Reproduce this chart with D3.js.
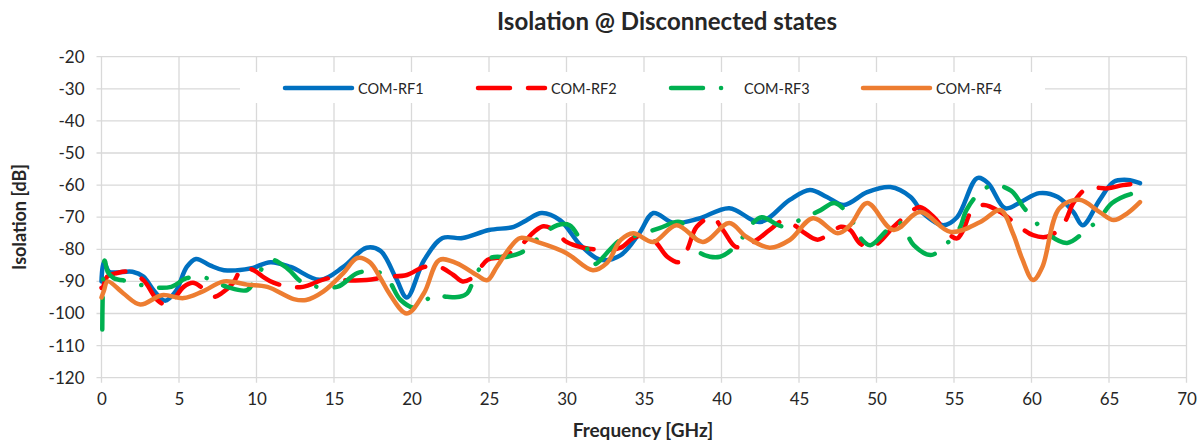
<!DOCTYPE html>
<html>
<head>
<meta charset="utf-8">
<script src="https://cdn.jsdelivr.net/npm/d3@7"></script>
<style>
  html, body { margin: 0; padding: 0; background: #fff; }
  svg text { font-family: Lato, "Open Sans", sans-serif; fill: #262626; }
</style>
</head>
<body>
<div id="chart"></div>
<script>
/* tick values */
const freqTicks = d3.range(0, 71, 5);
const dbTicks = d3.range(-120, -19, 10);

/* series: [frequency GHz, isolation dB] */
const comRf1 = [[0,-90],[0.15,-84],[0.5,-87],[1,-87.2],[2,-87],[2.7,-88.5],[3.4,-93],[4.1,-96],[4.8,-93],[5.5,-85.5],[6.1,-83],[7,-85],[7.9,-86.5],[9.6,-86],[10.9,-84],[12.2,-85.5],[14.1,-89.5],[15.6,-85.5],[17.1,-79.5],[18,-80.5],[19,-89],[19.7,-95],[20.8,-83.5],[22,-76.5],[23.3,-76.5],[25,-74],[26.6,-73],[27.4,-71],[28.4,-68.7],[29.6,-71],[30.9,-78.7],[32.2,-83.3],[33.5,-81.8],[34.7,-75],[35.6,-68.7],[36.9,-71.8],[38.5,-70.5],[40.5,-67.2],[42.5,-71.5],[44.4,-64.6],[45.7,-61.5],[46.8,-63.7],[47.9,-66.2],[49.4,-62.2],[50.9,-60.6],[52.2,-63.7],[53,-68.7],[54.3,-72.5],[55.2,-70],[56.5,-57.8],[57.2,-59.4],[58.3,-67.2],[59.3,-65.3],[60.5,-62.5],[61.7,-63.7],[62.7,-68.4],[63.3,-72.5],[64.4,-64.6],[65.3,-59],[66.2,-58.4],[67,-59.4]];

const comRf2 = [[0,-92],[0.1,-91.7],[0.35,-88.6],[1,-87.4],[1.7,-87],[2.7,-89.6],[3.6,-95.8],[4.2,-97.4],[4.6,-96],[5.3,-91.7],[5.9,-90.4],[6.5,-92],[7.2,-94.8],[7.8,-93.5],[8.5,-90.4],[9.1,-85.8],[9.8,-86.5],[10.4,-88.5],[11.1,-90.4],[12.2,-91.7],[13,-91.7],[14.7,-89],[15.6,-89.6],[17.1,-89.6],[18.4,-88.6],[19.7,-88],[20.8,-85.5],[21.8,-85.5],[22.7,-88],[23.3,-90],[24,-88.6],[24.9,-83.3],[25.9,-82.3],[27,-79],[27.9,-74.6],[28.5,-72.8],[29.2,-74],[30,-77.7],[31.1,-79.5],[32.2,-80.1],[33.5,-79.5],[34.3,-76.5],[35.2,-75.5],[35.8,-78],[36.5,-82.3],[37.3,-84],[37.8,-80],[38.4,-73],[39.4,-70],[40.1,-74],[40.9,-79.2],[41.6,-79],[42.3,-77],[43.1,-74],[44,-71],[44.7,-72.5],[45.3,-74.7],[46.2,-77],[47,-75],[47.7,-73],[48.3,-74],[48.9,-78],[49.6,-79.5],[50.2,-77.7],[51.1,-73],[52.2,-68.4],[52.8,-66.8],[53.7,-70],[54.6,-75],[55.2,-76.6],[55.6,-74],[56.1,-68.4],[56.9,-66.2],[58,-68.4],[59.1,-72.5],[60.1,-75.6],[61,-76.1],[61.6,-74.5],[62.2,-71],[62.7,-65.6],[63.6,-61],[64.9,-61],[65.9,-60],[67,-59.4]];

const comRf3 = [[0.05,-105],[0.2,-83.5],[0.4,-87],[0.8,-89],[1.8,-90],[3.1,-91.7],[4.5,-91.7],[5.5,-89],[6.8,-89],[8.1,-91.7],[9.4,-92.7],[10,-88.6],[10.9,-83.3],[12,-86],[13,-90.4],[15.2,-91.7],[16.5,-87.4],[17.8,-87],[18.5,-89.5],[19.3,-95.8],[20.3,-98.3],[21.4,-94.3],[22.3,-94.8],[23.1,-94.8],[23.6,-93.7],[24.2,-87.4],[25.1,-82.7],[26.2,-82.3],[27.2,-80.7],[28.3,-76],[29.4,-72.5],[30.2,-72.5],[30.9,-77],[31.3,-79.5],[31.8,-84.6],[32.8,-80.1],[33.5,-77],[34.3,-76],[36,-73.4],[37.3,-71.5],[38.2,-76],[38.6,-81],[39.9,-82.3],[41.1,-78],[41.8,-73],[42.6,-70],[43.9,-72.8],[45.3,-70.3],[46.4,-67.8],[47.3,-65.6],[48.3,-70],[48.9,-76],[49.6,-78.7],[50.7,-74],[51.5,-71.8],[52.4,-78.7],[53.5,-81.8],[54.3,-79.2],[55.3,-74],[55.8,-67.8],[56.5,-63.1],[57.5,-60],[58.7,-61.8],[59.5,-67],[61,-75],[62.3,-78],[63.4,-74.6],[64.4,-70.3],[65.2,-65.6],[66.4,-62.8],[67,-62.5]];

const comRf4 = [[0,-95],[0.15,-93],[0.4,-90],[1.4,-93.7],[2.5,-97.2],[3.9,-94.3],[5.3,-95.2],[6.5,-93.2],[7.9,-90],[9.4,-91],[10.7,-91.7],[12.4,-95.5],[13.2,-95.8],[14.3,-93.2],[15.6,-87.4],[16.5,-82.7],[17.3,-84],[18,-89],[18.6,-94],[19.7,-100],[20.8,-93.7],[21.8,-83.3],[22.9,-84.3],[24.2,-88],[24.9,-89.6],[25.5,-85.5],[26.4,-79.2],[27,-76.5],[28.3,-78],[30,-81.2],[31.7,-86.5],[32.6,-84.3],[33.5,-77.1],[34.3,-75],[35.6,-77.7],[37.1,-72.5],[38.8,-77.7],[40.5,-71.8],[41.6,-76.1],[43.1,-79.5],[44.4,-77.1],[45.9,-70.3],[47.5,-75],[48.3,-72.5],[49.4,-65.6],[51.1,-74],[52.8,-68.4],[54.8,-74.6],[56.7,-71.5],[58,-67.8],[58.8,-75],[59.4,-83],[60.1,-89.6],[60.7,-85.5],[61.8,-67.2],[63.1,-64.6],[64.4,-68.4],[65.3,-70.9],[66.2,-68.7],[67,-65.3]];

const seriesNames = ["COM-RF1", "COM-RF2", "COM-RF3", "COM-RF4"];
const seriesColors = ["#0070c0", "#ff0000", "#00b050", "#ed7d31"];
const seriesDash = [null, "32,18", "32,18,0.1,18", null];
const seriesData = [comRf1, comRf2, comRf3, comRf4];

const W = 1200, H = 441;
const plot = { left: 101.5, right: 1186.5, top: 56.7, bottom: 377.7 };
const lineW = 4.5;

const svg = d3.select("#chart").append("svg")
    .attr("width", W)
    .attr("height", H);

const x = d3.scaleLinear().domain([0, 70]).range([plot.left, plot.right]);
const y = d3.scaleLinear().domain([-120, -20]).range([plot.bottom, plot.top]);

/* grid */
const grid = svg.append("g").attr("stroke", "#d9d9d9").attr("stroke-width", 1.3);
grid.selectAll("line.h").data(dbTicks).join("line")
    .attr("x1", plot.left - 5).attr("x2", plot.right)
    .attr("y1", d => y(d)).attr("y2", d => y(d));
grid.selectAll("line.v").data(freqTicks).join("line")
    .attr("x1", d => x(d)).attr("x2", d => x(d))
    .attr("y1", plot.top).attr("y2", plot.bottom + 5);

/* axes, only used for labels */
const xAxis = svg.append("g")
    .attr("transform", `translate(0, ${plot.bottom + 5})`)
    .call(d3.axisBottom(x).tickValues(freqTicks).tickSize(0).tickPadding(10));
const yAxis = svg.append("g")
    .attr("transform", `translate(${plot.left - 8}, 0)`)
    .call(d3.axisLeft(y).tickValues(dbTicks).tickSize(0).tickPadding(9)
        .tickFormat(d => d));
[xAxis, yAxis].forEach(a => {
    a.select(".domain").remove();
    a.selectAll("text").attr("font-size", 17).style("font-family", "Lato, sans-serif").attr("fill", "#262626");
});

/* legend box (drawn before lines) */
svg.append("rect")
    .attr("x", 240).attr("y", 72).attr("width", 805).attr("height", 31)
    .attr("fill", "#fff");

/* lines */
const line = d3.line()
    .x(d => x(d[0]))
    .y(d => y(d[1]))
    .curve(d3.curveCatmullRom.alpha(0.5));

seriesData.forEach((data, i) => {
    svg.append("path")
        .datum(data)
        .attr("d", line)
        .attr("fill", "none")
        .attr("stroke", seriesColors[i])
        .attr("stroke-width", lineW)
        .attr("stroke-linecap", "round")
        .attr("stroke-linejoin", "round")
        .attr("stroke-dasharray", seriesDash[i]);
});

/* legend */
const legendX = [285, 478, 671, 863];
const legend = svg.append("g");
seriesNames.forEach((name, i) => {
    legend.append("line")
        .attr("x1", legendX[i]).attr("x2", legendX[i] + 67)
        .attr("y1", 88).attr("y2", 88)
        .attr("stroke", seriesColors[i])
        .attr("stroke-width", lineW)
        .attr("stroke-linecap", "round")
        .attr("stroke-dasharray", seriesDash[i]);
    legend.append("text")
        .attr("x", legendX[i] + 73).attr("y", 93.5)
        .attr("font-size", 14.5)
        .text(name);
});

/* titles */
svg.append("text")
    .attr("x", 667).attr("y", 30)
    .attr("text-anchor", "middle")
    .attr("font-size", 24).attr("font-weight", "bold")
    .text("Isolation @ Disconnected states");
svg.append("text")
    .attr("x", 643).attr("y", 437)
    .attr("text-anchor", "middle")
    .attr("font-size", 19).attr("font-weight", "bold")
    .text("Frequency [GHz]");
svg.append("text")
    .attr("transform", "translate(26, 217) rotate(-90)")
    .attr("text-anchor", "middle")
    .attr("font-size", 18).attr("font-weight", "bold")
    .text("Isolation [dB]");
</script>
</body>
</html>
